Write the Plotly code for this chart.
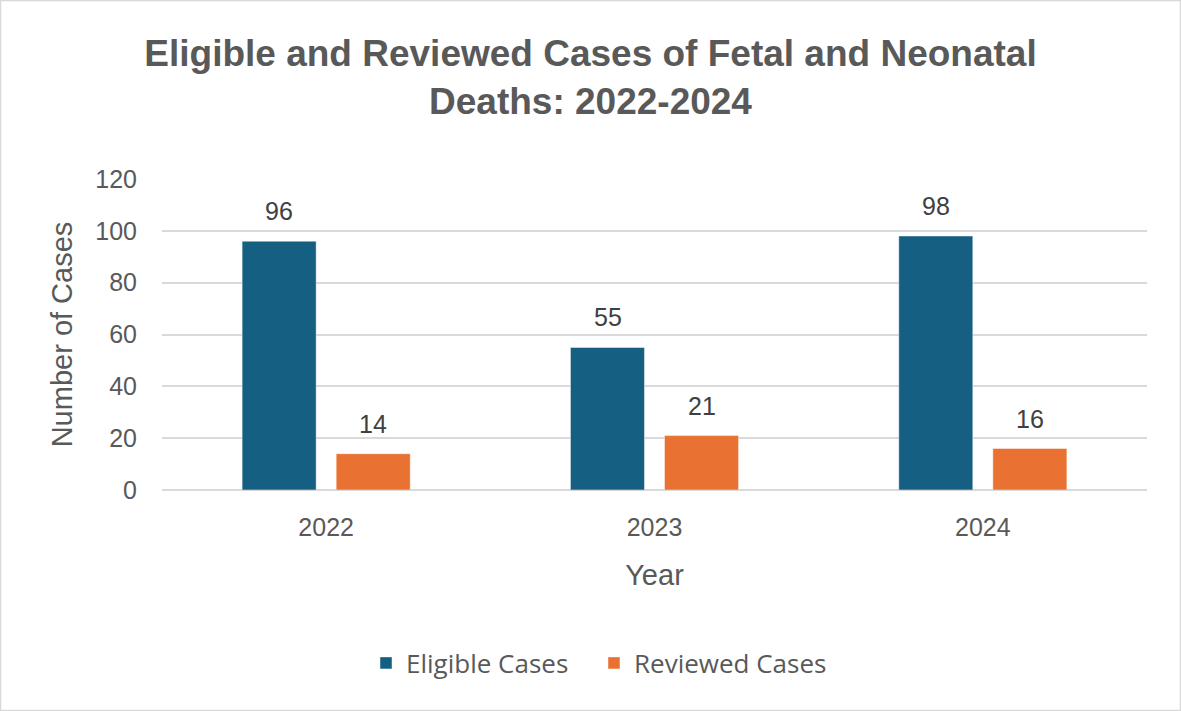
import plotly.graph_objects as go

years = ["2022", "2023", "2024"]
eligible = [96, 55, 98]
reviewed = [14, 21, 16]

W, H = 1181, 711
L, R, T, B = 162, 34, 179, 221

BLUE = "#156082"
ORANGE = "#E97132"
GREY_TEXT = "#595959"
GRID = "#D9D9D9"

fig = go.Figure()
fig.add_trace(go.Bar(
    x=years, y=eligible, name="Eligible Cases", legend="legend",
    marker=dict(color=BLUE, line=dict(color="rgba(255,255,255,0.45)", width=1)),
))
fig.add_trace(go.Bar(
    x=years, y=reviewed, name="Reviewed Cases", legend="legend2",
    marker=dict(color=ORANGE, line=dict(color="rgba(255,255,255,0.45)", width=1)),
))

# value labels above each bar (x given as category index)
for series, shift in ((eligible, -47), (reviewed, 47)):
    for i, v in enumerate(series):
        fig.add_annotation(
            x=i, y=v, text=str(v), showarrow=False,
            xshift=shift, yshift=30, yanchor="middle",
            font=dict(family="Liberation Sans, Arial", size=25, color="#404040"),
        )

# thin frame around the whole chart
pw, ph = W - L - R, H - T - B
fig.add_shape(
    type="rect", xref="paper", yref="paper",
    x0=(0.5 - L) / pw, x1=(W - 0.5 - L) / pw,
    y0=-(H - 0.5 - T - ph) / ph, y1=(T - 0.5) / ph + 1,
    line=dict(color="#D9D9D9", width=1.5), layer="below",
)

legend_font = dict(family="Open Sans, Liberation Sans", size=26, color=GREY_TEXT)
legend_y = -(663 - (T + ph)) / ph


def legend_at(px):
    return dict(
        orientation="h", x=(px - L) / pw, xanchor="left",
        y=legend_y, yanchor="middle",
        font=legend_font, itemwidth=30,
    )


fig.update_layout(
    width=W, height=H,
    margin=dict(l=L, r=R, t=T, b=B),
    paper_bgcolor="white", plot_bgcolor="white",
    barmode="group", bargap=0.427, bargroupgap=0.213,
    title=dict(
        text="Eligible and Reviewed Cases of Fetal and Neonatal<br>Deaths: 2022-2024",
        x=0.5, xref="container", xanchor="center",
        y=1 - 66 / H, yref="container", yanchor="middle",
        font=dict(family="Liberation Sans, Arial", size=37, color=GREY_TEXT, weight="bold"),
    ),
    font=dict(family="Liberation Sans, Arial", color=GREY_TEXT),
    xaxis=dict(
        type="category", range=[-0.5, 2.5],
        title=dict(text="Year", font=dict(size=29, color=GREY_TEXT), standoff=24),
        tickfont=dict(size=25, color=GREY_TEXT),
        showgrid=False, showline=False, ticks="",
        ticklabelstandoff=20,
    ),
    yaxis=dict(
        title=dict(text="Number of Cases", font=dict(size=29, color=GREY_TEXT), standoff=14),
        range=[0, 120], dtick=20,
        tickfont=dict(size=25, color=GREY_TEXT),
        showgrid=True, gridcolor=GRID, gridwidth=1.5,
        zeroline=True, zerolinecolor=GRID, zerolinewidth=1.5,
        showline=False, ticks="", ticklabelstandoff=24,
    ),
    legend=legend_at(366),
    legend2=legend_at(594),
    showlegend=True,
)

fig.write_html("out.html")
